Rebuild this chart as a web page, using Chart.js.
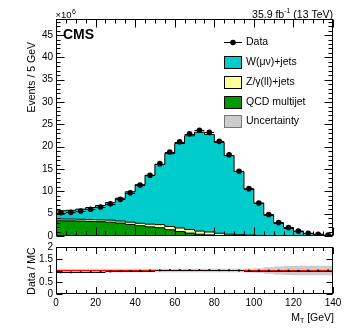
<!DOCTYPE html>
<html>
<head>
<meta charset="utf-8">
<script src="https://cdn.jsdelivr.net/npm/chart.js@4.4.0/dist/chart.umd.min.js"></script>
<style>
  body { margin: 0; background: #fff; }
  #wrap { position: relative; width: 349px; height: 335px; }
  canvas { position: absolute; left: 0; }
  #mainChart { top: 0; }
  #ratioChart { top: 237px; }
</style>
</head>
<body>
<div id="wrap">
  <canvas id="mainChart" width="349" height="245"></canvas>
  <canvas id="ratioChart" width="349" height="98"></canvas>
</div>
<script>
// 5 GeV bins in M_T, values in units of 10^6 events
var binEdges = [0, 5, 10, 15, 20, 25, 30, 35, 40, 45, 50, 55, 60, 65, 70, 75, 80, 85, 90, 95, 100, 105, 110, 115, 120, 125, 130, 135, 140];
var dataVals = [5.2, 5.3, 5.6, 6.0, 6.5, 7.2, 8.2, 9.7, 11.4, 13.6, 16.2, 18.8, 21.1, 22.9, 23.7, 23.2, 21.2, 18.2, 14.5, 10.6, 7.4, 4.8, 3.0, 1.9, 1.1, 0.6, 0.4, 0.2];
var wjets = [1.85, 1.96, 2.27, 2.73, 3.24, 3.95, 5.1, 6.8, 8.65, 10.95, 13.5, 16.3, 18.9, 21.0, 22.15, 21.85, 20.35, 17.6, 14.2, 10.4, 7.27, 4.72, 2.95, 1.87, 1.09, 0.59, 0.39, 0.2];
var zjets = [0.4, 0.4, 0.4, 0.4, 0.4, 0.45, 0.45, 0.5, 0.55, 0.6, 0.7, 0.75, 0.8, 0.8, 0.7, 0.65, 0.5, 0.35, 0.25, 0.18, 0.12, 0.08, 0.05, 0.03, 0.02, 0.01, 0.01, 0];
var qcd = [3.4, 3.4, 3.35, 3.25, 3.2, 3.1, 2.9, 2.6, 2.3, 2.05, 1.85, 1.4, 1.0, 0.65, 0.4, 0.25, 0.12, 0.06, 0.03, 0.02, 0.01, 0, 0, 0, 0, 0, 0, 0];
var mcUnc = [0.07, 0.07, 0.07, 0.07, 0.07, 0.07, 0.07, 0.07, 0.07, 0.07, 0.07, 0.07, 0.07, 0.07, 0.07, 0.07, 0.07, 0.07, 0.07, 0.08, 0.1, 0.14, 0.17, 0.19, 0.2, 0.2, 0.2, 0.2];
var yTicks = [0, 5, 10, 15, 20, 25, 30, 35, 40, 45];
var xTicks = [0, 20, 40, 60, 80, 100, 120, 140];
var ratioTicks = [0, 0.5, 1, 1.5, 2];
var legendLabels = ['Data', 'W(\u03bc\u03bd)+jets', 'Z/\u03b3(ll)+jets', 'QCD multijet', 'Uncertainty'];

var FONT = '"Liberation Sans", Arial, sans-serif';
Chart.defaults.font.family = FONT;
Chart.defaults.font.size = 10;
Chart.defaults.color = '#000';

var centers = binEdges.slice(0, dataVals.length).map(function (e) { return e + 2.5; });

// bin contents as step points: with stepped 'before' the value at edge i is held until edge i+1
function stepPoints(vals) {
  return binEdges.map(function (e, i) {
    return { x: e, y: vals[Math.min(i, vals.length - 1)] };
  });
}

// ROOT-like frame with inward ticks on all four sides
function frameTicks(c) {
  return {
    id: 'frameTicks',
    afterDatasetsDraw: function (chart) {
      var a = chart.chartArea, ctx = chart.ctx;
      var sx = chart.scales.x, sy = chart.scales.y;
      ctx.save();
      ctx.strokeStyle = '#000';
      ctx.lineWidth = 1;
      var L = Math.round(a.left) + 0.5, R = Math.round(a.right) - 0.5;
      var T = Math.round(a.top) + 0.5, B = Math.round(a.bottom) - 0.5;
      ctx.strokeRect(L, T, R - L, B - T);
      ctx.beginPath();
      for (var k = 0; k * c.xMinor <= sx.max + 1e-9; k++) {
        var v = k * c.xMinor;
        var len = (Math.abs(v / c.xMajor - Math.round(v / c.xMajor)) < 1e-6) ? c.xMajLen : c.xMinLen;
        var px = Math.round(sx.getPixelForValue(v)) + 0.5;
        ctx.moveTo(px, B); ctx.lineTo(px, B - len);
        ctx.moveTo(px, T); ctx.lineTo(px, T + len);
      }
      for (var j = 0; j * c.yMinor <= sy.max + 1e-9; j++) {
        var w = j * c.yMinor;
        var ln = (Math.abs(w / c.yMajor - Math.round(w / c.yMajor)) < 1e-6) ? c.yMajLen : c.yMinLen;
        var py = Math.round(sy.getPixelForValue(w)) + 0.5;
        ctx.moveTo(L, py); ctx.lineTo(L + ln, py);
        ctx.moveTo(R, py); ctx.lineTo(R - ln, py);
      }
      ctx.stroke();
      ctx.restore();
    }
  };
}

// horizontal bin-width bars on the points of dataset 0
var xErrBars = {
  id: 'xErrBars',
  afterDatasetsDraw: function (chart) {
    var ctx = chart.ctx, sx = chart.scales.x, sy = chart.scales.y;
    var pts = chart.data.datasets[0].data;
    ctx.save();
    ctx.strokeStyle = '#000';
    ctx.lineWidth = 1;
    ctx.beginPath();
    pts.forEach(function (p) {
      var y = Math.round(sy.getPixelForValue(p.y)) + 0.5;
      ctx.moveTo(sx.getPixelForValue(p.x - 2.5), y);
      ctx.lineTo(sx.getPixelForValue(p.x + 2.5), y);
    });
    ctx.stroke();
    ctx.restore();
  }
};

var mainText = {
  id: 'mainText',
  afterDraw: function (chart) {
    var ctx = chart.ctx;
    ctx.save();
    ctx.fillStyle = '#000';
    ctx.textAlign = 'left';
    ctx.textBaseline = 'alphabetic';

    ctx.font = 'bold 14px ' + FONT;
    ctx.fillText('CMS', 63, 38.5);

    ctx.font = '9.5px ' + FONT;
    ctx.fillText('\u00d710', 55.5, 18);
    var w10 = ctx.measureText('\u00d710').width;
    ctx.font = '7px ' + FONT;
    ctx.fillText('6', 55.5 + w10 + 0.5, 13.5);

    // luminosity label, right aligned
    var right = 333;
    ctx.font = '10.5px ' + FONT;
    var tail = ' (13 TeV)', head = '35.9 fb';
    var wTail = ctx.measureText(tail).width, wHead = ctx.measureText(head).width;
    ctx.font = '7px ' + FONT;
    var wSup = ctx.measureText('-1').width;
    ctx.fillText('-1', right - wTail - wSup, 13);
    ctx.font = '10.5px ' + FONT;
    ctx.fillText(tail, right - wTail, 17.5);
    ctx.fillText(head, right - wTail - wSup - wHead, 17.5);

    // y title
    ctx.save();
    ctx.translate(35, 42);
    ctx.rotate(-Math.PI / 2);
    ctx.textAlign = 'right';
    ctx.font = '10.5px ' + FONT;
    ctx.fillText('Events / 5 GeV', 0, 0);
    ctx.restore();

    // legend
    var fills = [null, '#00cccc', '#ffff99', '#009900', '#cccccc'];
    var rowY = [41.5, 61.5, 81.5, 101.5, 121];
    ctx.font = '10.5px ' + FONT;
    ctx.textBaseline = 'middle';
    ctx.lineWidth = 1;
    ctx.strokeStyle = '#000';
    legendLabels.forEach(function (lab, i) {
      var y = rowY[i];
      if (i === 0) {
        ctx.beginPath();
        ctx.moveTo(224, Math.round(y) + 0.5);
        ctx.lineTo(242, Math.round(y) + 0.5);
        ctx.stroke();
        ctx.beginPath();
        ctx.arc(233, Math.round(y) + 0.5, 2.8, 0, 2 * Math.PI);
        ctx.fill();
      } else {
        ctx.fillStyle = fills[i];
        ctx.fillRect(224, Math.round(y - 6), 18, 12);
        ctx.strokeStyle = i === 4 ? '#777' : '#000';
        ctx.strokeRect(224.5, Math.round(y - 6) + 0.5, 17, 12);
        ctx.strokeStyle = '#000';
        ctx.fillStyle = '#000';
      }
      ctx.fillText(lab, 246, y + 0.5);
    });
    ctx.restore();
  }
};

var ratioText = {
  id: 'ratioText',
  afterDraw: function (chart) {
    var ctx = chart.ctx, sy = chart.scales.y;
    ctx.save();
    ctx.fillStyle = '#000';

    // y tick labels, placed with the ratio y scale
    ctx.font = '10px ' + FONT;
    ctx.textAlign = 'right';
    ctx.textBaseline = 'middle';
    ratioTicks.forEach(function (v) {
      ctx.fillText(String(v), chart.chartArea.left - 3, sy.getPixelForValue(v));
    });

    ctx.textAlign = 'left';
    ctx.textBaseline = 'alphabetic';
    ctx.font = '10.5px ' + FONT;
    ctx.save();
    ctx.translate(35, 34);
    ctx.rotate(-Math.PI / 2);
    ctx.textAlign = 'center';
    ctx.fillText('Data / MC', 0, 0);
    ctx.restore();

    // M_T [GeV], right aligned
    var right = 334, base = 83.5;
    var rest = ' [GeV]';
    var wRest = ctx.measureText(rest).width;
    ctx.fillText(rest, right - wRest, base);
    ctx.font = '7px ' + FONT;
    var wT = ctx.measureText('T').width;
    ctx.fillText('T', right - wRest - wT, base + 2.5);
    ctx.font = '10.5px ' + FONT;
    var wM = ctx.measureText('M').width;
    ctx.fillText('M', right - wRest - wT - wM, base);
    ctx.restore();
  }
};

function yAxis(min, max, ticks, stacked, showLabels) {
  return {
    stacked: stacked,
    min: min, max: max,
    afterBuildTicks: function (s) { s.ticks = ticks.map(function (v) { return { value: v }; }); },
    afterFit: function (s) { s.width = 56; },
    grid: { display: false, drawTicks: false },
    border: { display: false },
    ticks: { display: showLabels, padding: 3, color: '#000', autoSkip: false,
      font: { size: 10 },
      callback: function (v) { return String(v); } }
  };
}

new Chart(document.getElementById('mainChart'), {
  type: 'line',
  data: {
    datasets: [
      { label: legendLabels[0], data: centers.map(function (c, i) { return { x: c, y: dataVals[i] }; }),
        showLine: false, pointRadius: 2.8, pointBackgroundColor: '#000', pointBorderColor: '#000', pointBorderWidth: 0, stack: 'data' },
      { label: legendLabels[3], data: stepPoints(qcd), stepped: 'before', fill: 'origin',
        backgroundColor: '#009900', borderColor: '#000', borderWidth: 1, pointRadius: 0, stack: 'mc' },
      { label: legendLabels[2], data: stepPoints(zjets), stepped: 'before', fill: '-1',
        backgroundColor: '#ffff99', borderColor: '#000', borderWidth: 1, pointRadius: 0, stack: 'mc' },
      { label: legendLabels[1], data: stepPoints(wjets), stepped: 'before', fill: '-1',
        backgroundColor: '#00cccc', borderColor: '#000', borderWidth: 1, pointRadius: 0, stack: 'mc' }
    ]
  },
  options: {
    responsive: false,
    animation: false,
    layout: { padding: { left: 0, right: 16, top: 19, bottom: 8 } },
    plugins: { legend: { display: false }, tooltip: { enabled: false } },
    scales: {
      x: { type: 'linear', min: 0, max: 140, display: false },
      y: yAxis(0, 48.6, yTicks, true, true)
    }
  },
  plugins: [xErrBars, frameTicks({ xMinor: 5, xMajor: 20, xMajLen: 8, xMinLen: 4, yMinor: 1, yMajor: 5, yMajLen: 8, yMinLen: 4 }), mainText]
});

new Chart(document.getElementById('ratioChart'), {
  type: 'line',
  data: {
    datasets: [
      { label: 'ratio', data: centers.map(function (c, i) { return { x: c, y: dataVals[i] / (wjets[i] + zjets[i] + qcd[i]) }; }),
        showLine: false, pointStyle: 'rect', pointRadius: 1.3, pointBackgroundColor: '#000', pointBorderColor: '#000', pointBorderWidth: 0 },
      { label: 'unity', data: [{ x: 0, y: 1 }, { x: 140, y: 1 }], borderColor: '#ff0000', borderWidth: 1, pointRadius: 0, fill: false },
      { label: 'uncLo', data: stepPoints(mcUnc.map(function (u) { return 1 - u; })), stepped: 'before',
        borderColor: 'rgba(0,0,0,0)', borderWidth: 0, pointRadius: 0, fill: false },
      { label: 'uncHi', data: stepPoints(mcUnc.map(function (u) { return 1 + u; })), stepped: 'before',
        borderColor: 'rgba(0,0,0,0)', borderWidth: 0, pointRadius: 0, fill: '-1', backgroundColor: '#cccccc' }
    ]
  },
  options: {
    responsive: false,
    animation: false,
    layout: { padding: { left: 0, right: 16, top: 10, bottom: 21 } },
    plugins: { legend: { display: false }, tooltip: { enabled: false } },
    scales: {
      x: {
        type: 'linear', min: 0, max: 140,
        afterBuildTicks: function (s) { s.ticks = xTicks.map(function (v) { return { value: v }; }); },
        afterFit: function (s) { s.height = 20; },
        grid: { display: false, drawTicks: false },
        border: { display: false },
        ticks: { padding: 3, color: '#000', maxRotation: 0, autoSkip: false, font: { size: 10 } }
      },
      y: yAxis(0, 2, ratioTicks, false, false)
    }
  },
  plugins: [xErrBars, frameTicks({ xMinor: 5, xMajor: 20, xMajLen: 6.5, xMinLen: 3.5, yMinor: 0.5, yMajor: 0.5, yMajLen: 6, yMinLen: 6 }), ratioText]
});
</script>
</body>
</html>
